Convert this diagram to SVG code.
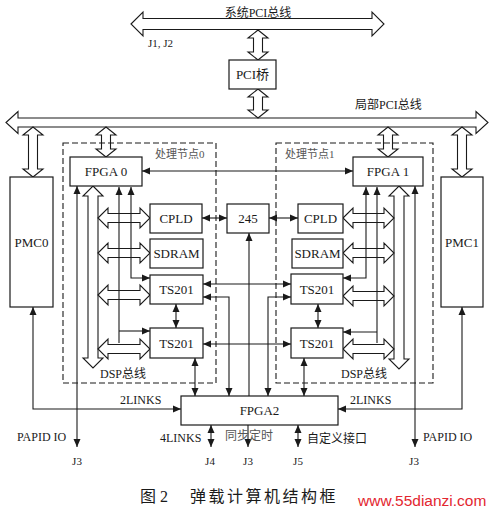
<svg xmlns="http://www.w3.org/2000/svg" width="493" height="512" viewBox="0 0 493 512">
<defs>
<marker id="ah" markerUnits="userSpaceOnUse" markerWidth="9" markerHeight="8" refX="8" refY="3.5" orient="auto-start-reverse" viewBox="0 0 9 7">
<path d="M0,0 L8,3.5 L0,7 z" fill="#1a1a1a"/>
</marker>
</defs>
<style>
.bx{fill:#fff;stroke:#1a1a1a;stroke-width:1.2}
.dash{fill:none;stroke:#1a1a1a;stroke-width:1.1;stroke-dasharray:6,3}
.ho{fill:none;stroke:#1a1a1a;stroke-width:1.1;stroke-linejoin:miter}
.ln{fill:none;stroke:#1a1a1a;stroke-width:1.1}
.b2{marker-start:url(#ah);marker-end:url(#ah)}
.e1{marker-end:url(#ah)}
.t{font-family:"Liberation Serif","Noto Sans CJK SC",serif;fill:#1a1a1a;font-size:12px}
.tb{font-size:13px;text-anchor:middle}
.s11{font-size:11px}
.cap{font-size:16px}
.g{fill:#555}
.m{text-anchor:middle}
</style>
<rect width="493" height="512" fill="#fff"/>

<g id="connectors">
<!-- buses -->
<polygon class="ho" points="131,24 143,12 143,18.5 372,18.5 372,12 384,24 372,36 372,29.5 143,29.5 143,36"/>
<polygon class="ho" points="6,122.5 18,111.5 18,118 476,118 476,111.5 488,122.5 476,133.5 476,127 18,127 18,133.5"/>
<polygon class="ho" points="258,30 268,38 262.5,38 262.5,52 268,52 258,60 248,52 253.5,52 253.5,38 248,38"/>
<polygon class="ho" points="258,89 268,97 262.5,97 262.5,110 268,110 258,118 248,110 253.5,110 253.5,97 248,97"/>
<polygon class="ho" points="33,127 43,135 37.5,135 37.5,169 43,169 33,177 23,169 28.5,169 28.5,135 23,135"/>
<polygon class="ho" points="106,127 116,135 110.5,135 110.5,149 116,149 106,157 96,149 101.5,149 101.5,135 96,135"/>
<polygon class="ho" points="388,127 398,135 392.5,135 392.5,149 398,149 388,157 378,149 383.5,149 383.5,135 378,135"/>
<polygon class="ho" points="462,127 472,135 466.5,135 466.5,169 472,169 462,177 452,169 457.5,169 457.5,135 452,135"/>
<!-- DSP buses -->
<polygon class="ho" points="93,186 103,196 98,196 98,358 103,358 93,368 83,358 88,358 88,196 83,196"/>
<polygon class="ho" points="399,186 409,196 404,196 404,359 409,359 399,369 389,359 394,359 394,196 389,196"/>
<!-- left hollow horizontals -->
<polygon class="ho" points="98,218 108,208 108,213.5 140,213.5 140,208 150,218 140,228 140,222.5 108,222.5 108,228"/>
<polygon class="ho" points="98,253 108,243 108,248.5 140,248.5 140,243 150,253 140,263 140,257.5 108,257.5 108,263"/>
<polygon class="ho" points="98,295 108,285 108,290.5 140,290.5 140,285 150,295 140,305 140,299.5 108,299.5 108,305"/>
<polygon class="ho" points="98,349 108,339 108,344.5 140,344.5 140,339 150,349 140,359 140,353.5 108,353.5 108,359"/>
<!-- right hollow horizontals -->
<polygon class="ho" points="343,218 353,208 353,213.5 384,213.5 384,208 394,218 384,228 384,222.5 353,222.5 353,228"/>
<polygon class="ho" points="343,253 353,243 353,248.5 384,248.5 384,243 394,253 384,263 384,257.5 353,257.5 353,263"/>
<polygon class="ho" points="343,296 353,286 353,291.5 384,291.5 384,286 394,296 384,306 384,300.5 353,300.5 353,306"/>
<polygon class="ho" points="343,349 353,339 353,344.5 384,344.5 384,339 394,349 384,359 384,353.5 353,353.5 353,359"/>
<!-- left single lines -->
<path class="ln b2" d="M77,186 L77,447"/>
<path class="ln e1" d="M119,343 L119,187"/>
<path class="ln e1" d="M119,331 L150,331"/>
<path class="ln b2" d="M131,187 L131,278 L150,278"/>
<!-- right single lines -->
<path class="ln b2" d="M415,186 L415,447"/>
<path class="ln e1" d="M377,343 L377,187"/>
<path class="ln e1" d="M377,332 L343,332"/>
<path class="ln b2" d="M366,187 L366,278 L343,278"/>
<!-- center -->
<path class="ln b2" d="M142,171 L353,171"/>
<path class="ln b2" d="M202,218 L227,218"/>
<path class="ln b2" d="M269,218 L298,218"/>
<path class="ln e1" d="M249,396 L249,233"/>
<path class="ln b2" d="M203,284 L291,284"/>
<path class="ln b2" d="M203,297 L229,297 L229,396"/>
<path class="ln b2" d="M291,297 L268,297 L268,396"/>
<path class="ln b2" d="M203,344 L291,344"/>
<path class="ln b2" d="M176,304 L176,328"/>
<path class="ln b2" d="M318,304 L318,328"/>
<path class="ln b2" d="M195,358 L195,396"/>
<path class="ln b2" d="M304,358 L304,396"/>
<path class="ln b2" d="M33,307 L33,409 L181,409"/>
<path class="ln b2" d="M462,307 L462,409 L338,409"/>
<path class="ln b2" d="M211,425 L211,447"/>
<path class="ln e1" d="M248,425 L248,447"/>
<path class="ln b2" d="M298,425 L298,447"/>
</g>

<g id="node0">
<rect class="dash" x="63" y="143" width="153" height="240"/>
<text class="t g s11" x="155" y="158">处理节点0</text>
<text class="t" x="100" y="378">DSP总线</text>
</g>
<g id="node1">
<rect class="dash" x="276" y="143" width="157" height="240"/>
<text class="t g s11" x="285" y="158">处理节点1</text>
<text class="t" x="341" y="378">DSP总线</text>
</g>

<g id="sysbus"><text class="t m" x="258" y="17">系统PCI总线</text><text class="t s11" x="148" y="47">J1, J2</text></g>
<g id="localbus"><text class="t" x="355" y="109">局部PCI总线</text></g>
<g id="pcibridge"><rect class="bx" x="229" y="60" width="47" height="29"/><text class="t tb" x="252.5" y="79">PCI桥</text></g>
<g id="pmc0"><rect class="bx" x="10" y="177" width="43" height="130"/><text class="t tb" x="31.5" y="247">PMC0</text></g>
<g id="pmc1"><rect class="bx" x="441" y="177" width="42" height="130"/><text class="t tb" x="462" y="247">PMC1</text></g>
<g id="fpga0"><rect class="bx" x="70" y="157" width="72" height="29"/><text class="t tb" x="106" y="176">FPGA 0</text></g>
<g id="fpga1"><rect class="bx" x="353" y="157" width="70" height="29"/><text class="t tb" x="388" y="176">FPGA 1</text></g>
<g id="cpld0"><rect class="bx" x="150" y="204" width="52" height="29"/><text class="t tb" x="176" y="223">CPLD</text></g>
<g id="sdram0"><rect class="bx" x="150" y="239" width="53" height="29"/><text class="t tb" x="176.5" y="258">SDRAM</text></g>
<g id="ts0a"><rect class="bx" x="150" y="275" width="53" height="29"/><text class="t tb" x="176.5" y="294">TS201</text></g>
<g id="ts0b"><rect class="bx" x="150" y="328" width="53" height="30"/><text class="t tb" x="176.5" y="348">TS201</text></g>
<g id="b245"><rect class="bx" x="227" y="204" width="42" height="29"/><text class="t tb" x="248" y="223">245</text></g>
<g id="cpld1"><rect class="bx" x="298" y="204" width="45" height="29"/><text class="t tb" x="320.5" y="223">CPLD</text></g>
<g id="sdram1"><rect class="bx" x="292" y="239" width="51" height="29"/><text class="t tb" x="317.5" y="258">SDRAM</text></g>
<g id="ts1a"><rect class="bx" x="291" y="274" width="52" height="30"/><text class="t tb" x="317" y="294">TS201</text></g>
<g id="ts1b"><rect class="bx" x="291" y="328" width="52" height="30"/><text class="t tb" x="317" y="348">TS201</text></g>
<g id="fpga2"><rect class="bx" x="181" y="396" width="157" height="29"/><text class="t tb" x="259.5" y="415">FPGA2</text></g>

<g id="labels">
<text class="t" x="120" y="404">2LINKS</text>
<text class="t" x="350" y="404">2LINKS</text>
<text class="t" x="17" y="441">PAPID IO</text>
<text class="t" x="423" y="441">PAPID IO</text>
<text class="t" x="160" y="442">4LINKS</text>
<text class="t g" x="225" y="440">同步定时</text>
<text class="t" x="307" y="443">自定义接口</text>
<text class="t m s11" x="77" y="465">J3</text>
<text class="t m s11" x="210" y="465">J4</text>
<text class="t m s11" x="248" y="465">J3</text>
<text class="t m s11" x="298" y="465">J5</text>
<text class="t m s11" x="414" y="465">J3</text>
<text class="t cap" x="140" y="502">图 2</text>
<text class="t cap" x="190" y="502" letter-spacing="2.5">弹载计算机结构框</text>
<text x="358" y="506" font-family="Liberation Sans, sans-serif" font-size="15.5" fill="#e3262f">www.55dianzi.com</text>
</g>
</svg>
